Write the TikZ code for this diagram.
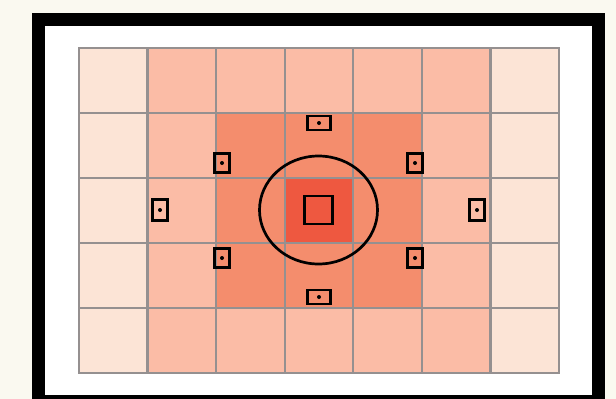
\documentclass[tikz,border=0pt]{standalone}
\usepackage{xcolor}
\definecolor{paper}    {HTML}{FAF9F0}
\definecolor{gridgray} {HTML}{959090}
\definecolor{cellOut}  {HTML}{FCE4D6}
\definecolor{cellMid}  {HTML}{FBBCA6}
\definecolor{cellIn}   {HTML}{F48D6D}
\definecolor{cellCtr}  {HTML}{EE5840}
\tikzset{
    cell/.style={rectangle, draw=gridgray, line width=2.4pt, inner sep=0pt,
                 minimum width=68.57pt, minimum height=65pt},
    afpoint/.style={rectangle, draw, line width=2.9pt, inner sep=0pt},
    afwide/.style={afpoint, minimum width=23pt, minimum height=14pt},
    afdiag/.style={afpoint, minimum width=15pt, minimum height=19pt},
    afside/.style={afpoint, minimum width=15pt, minimum height=21pt},
    afcentre/.style={afpoint, minimum size=28pt},
    spotring/.style={line width=2.7pt},
    viewframe/.style={line width=13pt},
}
\begin{document}
\begin{tikzpicture}[x=1pt, y=-1pt]
    \useasboundingbox (0,0) rectangle (616,399);
    \clip (0,0) rectangle (616,399);
    \fill[paper] (0,0) rectangle (616,399);
    % viewfinder frame
    \fill[white] (38.5,19.5) rectangle (598.5,401.5);
    \draw[viewframe] (38.5,19.5) rectangle (598.5,401.5);
    % metering zones
    \foreach \c in {0,...,6}{
        \foreach \r in {0,...,4}{
            \def\tone{cellMid}
            \ifnum\c=0 \def\tone{cellOut}\fi
            \ifnum\c=6 \def\tone{cellOut}\fi
            \ifnum\c>1 \ifnum\c<5 \ifnum\r>0 \ifnum\r<4 \def\tone{cellIn}\fi\fi\fi\fi
            \ifnum\c=3 \ifnum\r=2 \def\tone{cellCtr}\fi\fi
            \node[cell, fill=\tone] (cell-\c-\r)
                at ({79+68.571*(\c+0.5)}, {48+65*(\r+0.5)}) {};
        }
    }
    % focus points
    \node[afcentre] (af-c) at (318.5,210) {};
    \node[afwide] (af-t)  at (319,123) {};
    \node[afwide] (af-b)  at (319,297) {};
    \node[afdiag] (af-tl) at (222,163) {};
    \node[afdiag] (af-tr) at (415,163) {};
    \node[afdiag] (af-bl) at (222,258) {};
    \node[afdiag] (af-br) at (415,258) {};
    \node[afside] (af-l)  at (160,210) {};
    \node[afside] (af-r)  at (477,210) {};
    \foreach \p in {af-t, af-b, af-tl, af-tr, af-bl, af-br, af-l, af-r}
        \fill (\p) circle (2);
    % spot metering circle
    \draw[spotring] (af-c) ellipse [x radius=59, y radius=54];
\end{tikzpicture}
\end{document}
